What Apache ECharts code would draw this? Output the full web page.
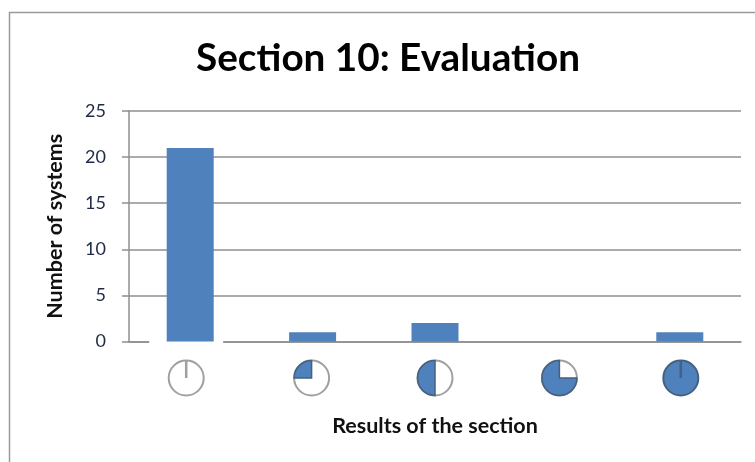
<!DOCTYPE html>
<html><head><meta charset="utf-8">
<style>html,body{margin:0;padding:0;background:#fff}#c{width:755px;height:462px}</style>
<script src="https://cdn.jsdelivr.net/npm/echarts@6/dist/echarts.min.js"></script>
</head><body><div id="c"></div>
<script>
const categories = ['Empty', 'Quarter', 'Half', 'Three quarters', 'Full'];
const systems = [21, 1, 2, 0, 1];
const resultFill = [0, 0.25, 0.5, 0.75, 1];
const yTicks = [0, 5, 10, 15, 20, 25];

const chart = echarts.init(document.getElementById('c'), null, {renderer: 'canvas'});
const font = 'Lato,"Noto Sans",sans-serif';
const iconShift = [-4, -1, 0, 2, 1];
const blue = '#4f81bd', rim = '#a0a0a0', dark = '#46617f', axisGrey = '#8f8f8f';
chart.setOption({
  animation: false,
  backgroundColor: '#fff',
  title: {text: 'Section 10: Evaluation', left: 383, top: 34, textAlign: 'center',
    textStyle: {fontFamily: font, fontSize: 38.7, fontWeight: 700, color: '#000'}},
  graphic: [{type: 'rect', shape: {x: 9.5, y: 12.5, width: 760, height: 470},
    style: {fill: 'none', stroke: '#9a9a9a', lineWidth: 1.5}, z: 0}],
  grid: {left: 129, right: 14, top: 111, height: 230.5, containLabel: false},
  xAxis: {type: 'category', data: categories,
    name: 'Results of the section', nameLocation: 'middle', nameGap: 74,
    nameTextStyle: {fontFamily: font, fontSize: 21.5, fontWeight: 700, color: '#111'},
    axisTick: {show: false}, axisLabel: {show: false},
    axisLine: {lineStyle: {color: axisGrey, width: 1.5}}},
  yAxis: {type: 'value', min: 0, max: yTicks[yTicks.length - 1], interval: 5,
    name: 'Number of systems', nameLocation: 'middle', nameGap: 63,
    nameTextStyle: {fontFamily: font, fontSize: 21.5, fontWeight: 700, color: '#111'},
    axisLine: {show: true, lineStyle: {color: axisGrey, width: 1.5}},
    axisTick: {show: true, length: 7, lineStyle: {color: axisGrey, width: 1.5}},
    axisLabel: {fontFamily: font, fontSize: 18, color: '#1f2a44', margin: 23},
    splitLine: {lineStyle: {color: axisGrey, width: 1.5}}},
  series: [
    {type: 'custom', z: 2, silent: true, clip: false,
     data: [[0, 0]], encode: {x: 0},
     renderItem(params, api) {
       const p = api.coord([api.value(0), 0]);
       return {type: 'rect', shape: {x: p[0] - 41, y: p[1] - 1.5, width: 74, height: 3.5},
         style: {fill: '#fff'}};
     }},
    {type: 'bar', data: systems, barWidth: 47, itemStyle: {color: blue}, z: 3},
    {type: 'custom', z: 4, silent: true, clip: false,
     data: resultFill.map((f, i) => [i, f]),
     encode: {x: 0},
     renderItem(params, api) {
       const p = api.coord([api.value(0), 0]);
       const i = api.value(0);
       const cx = p[0] + iconShift[i], cy = p[1] + 36.5, r = 17.5;
       const f = api.value(1);
       const kids = [];
       kids.push({type: 'circle', shape: {cx, cy, r},
         style: {fill: f >= 1 ? blue : '#fff', stroke: f >= 1 ? dark : rim, lineWidth: 2}});
       if (f > 0 && f < 1) {
         kids.push({type: 'sector', shape: {cx, cy, r, r0: 0,
           startAngle: -Math.PI / 2 - f * 2 * Math.PI, endAngle: -Math.PI / 2},
           style: {fill: blue, stroke: dark, lineWidth: 1.5}});
       } else {
         kids.push({type: 'line', shape: {x1: cx, y1: cy - r, x2: cx, y2: cy},
           style: {stroke: f >= 1 ? dark : rim, lineWidth: 2.5}});
       }
       return {type: 'group', children: kids};
     }}
  ]
});
</script></body></html>
